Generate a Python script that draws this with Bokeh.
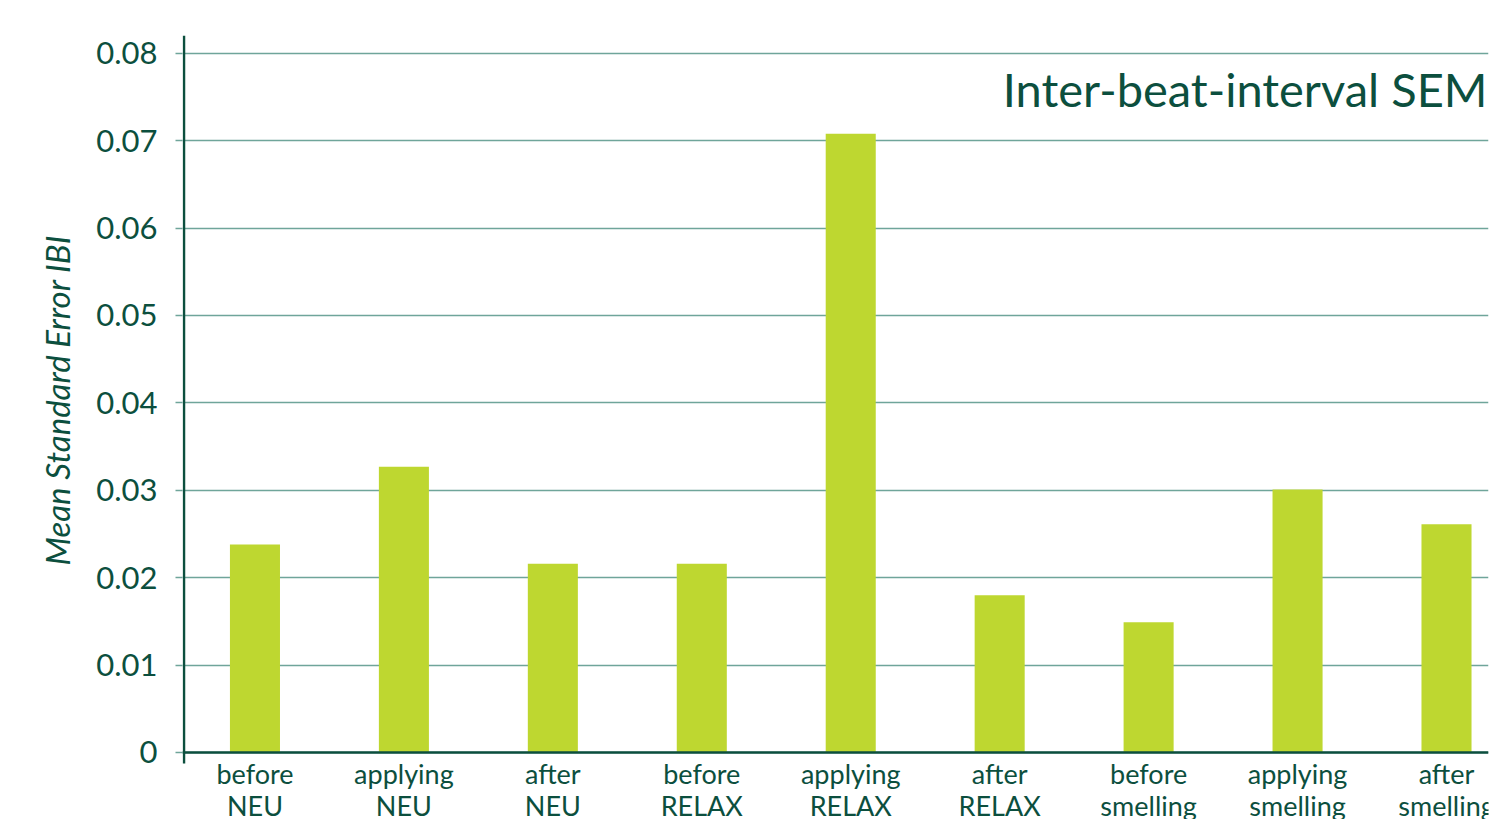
from bokeh.plotting import figure
from bokeh.models import (ColumnDataSource, Range1d, FixedTicker, Span, Label,
                          Title, CustomJSTickFormatter)
from bokeh.core.properties import value
from bokeh.embed import file_html
from bokeh.resources import INLINE

# Mean standard error of the inter-beat interval per phase
phases = ["before", "applying", "after", "before", "applying", "after",
          "before", "applying", "after"]
conditions = ["NEU", "NEU", "NEU", "RELAX", "RELAX", "RELAX",
              "smelling", "smelling", "smelling"]
sem_values = [0.0238, 0.0327, 0.0216, 0.0216, 0.0708, 0.0180, 0.0149, 0.0301, 0.0261]
y_ticks = [0, 0.01, 0.02, 0.03, 0.04, 0.05, 0.06, 0.07, 0.08]
title_text = "Inter-beat-interval SEM"
y_label = "Mean Standard Error IBI"

DARK = "#0c4f3e"
GRID = "#6fa59a"
BAR = "#bed730"
FONT = "Lato"

W, H = 1493, 819
BORDER_L, BORDER_R, BORDER_T = 182, 5, 35
Y0, Y1 = -0.007666, 0.08203      # frame reaches the bottom edge; labels live below zero
AXIS_BOTTOM = -0.00126           # where the vertical axis line stops
X0, X1 = -0.4865, 8.282

frame_h = H - BORDER_T
frame_w = W - BORDER_L - BORDER_R
px_y = frame_h / (Y1 - Y0)       # pixels per data unit, vertical
px_x = frame_w / (X1 - X0)       # pixels per category, horizontal

positions = list(range(len(sem_values)))
source = ColumnDataSource(data=dict(x=positions, top=sem_values))

p = figure(width=W, height=H, output_backend="svg", toolbar_location=None,
           x_range=Range1d(X0, X1), y_range=Range1d(Y0, Y1),
           min_border_left=BORDER_L, min_border_right=BORDER_R,
           min_border_top=BORDER_T, min_border_bottom=0)
p.outline_line_color = None
p.background_fill_color = "white"
p.border_fill_color = "white"

# horizontal grid
p.xgrid.visible = False
p.ygrid.ticker = FixedTicker(ticks=y_ticks)
p.ygrid.grid_line_color = GRID
p.ygrid.grid_line_width = 1.5

p.vbar(x="x", top="top", bottom=0, width=0.336, source=source,
       fill_color=BAR, line_color=None)

# baseline at zero
p.add_layout(Span(location=0, dimension="width", line_color=DARK, line_width=2.5))

# vertical axis line, slightly overhanging the grid at both ends
axis_x = X0 + 1.5 / px_x
p.segment(x0=[axis_x], y0=[AXIS_BOTTOM], x1=[axis_x], y1=[Y1],
          line_color=DARK, line_width=2.5)

# y axis ticks and numbers
ya = p.yaxis[0]
ya.ticker = FixedTicker(ticks=y_ticks)
ya.formatter = CustomJSTickFormatter(code="return tick == 0 ? '0' : tick.toFixed(2);")
ya.axis_line_color = None
ya.major_tick_line_color = GRID
ya.major_tick_line_width = 1.5
ya.major_tick_out = 7
ya.major_tick_in = 0
ya.minor_tick_line_color = None
ya.major_label_standoff = 18
ya.major_label_text_font = FONT
ya.major_label_text_font_size = "31px"
ya.major_label_text_color = DARK

# y axis caption, starting 254 px above the bottom edge
p.add_layout(Title(text=y_label, align="left", offset=254, standoff=34,
                   text_font=FONT, text_font_style="italic",
                   text_font_size="33px", text_color=DARK), "left")

# category labels in two lines under the baseline
p.xaxis.visible = False
p.text(x=positions, y=[-21 / px_y] * len(positions), text=phases,
       text_align="center", text_baseline="alphabetic",
       text_font=value(FONT), text_font_size="27px", text_color=DARK)
p.text(x=positions, y=[-53 / px_y] * len(positions), text=conditions,
       text_align="center", text_baseline="alphabetic",
       text_font=value(FONT), text_font_size="27px", text_color=DARK)

p.add_layout(Label(x=8.275, y=0.0739 + 18 / px_y, text=title_text, text_align="right",
                   text_baseline="alphabetic", text_font=FONT,
                   text_font_size="47px", text_color=DARK))

open("out.html", "w").write(file_html(p, INLINE))
